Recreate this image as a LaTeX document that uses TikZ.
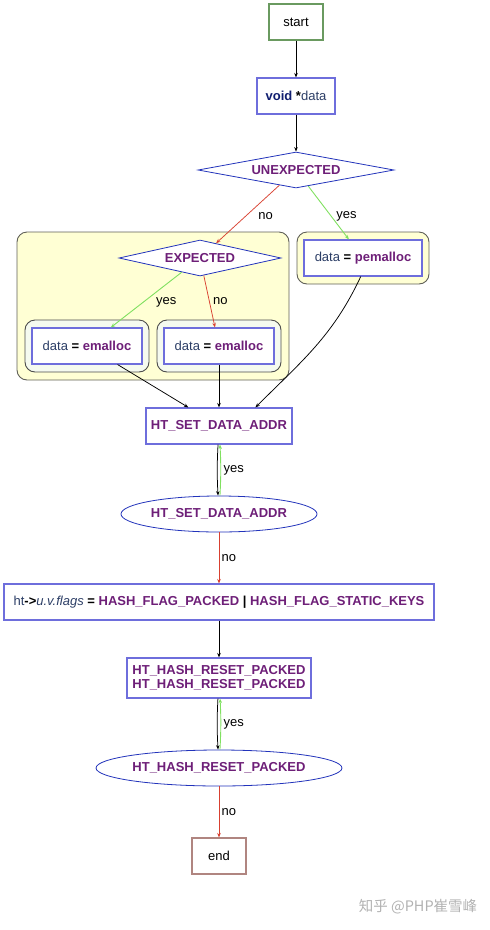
\documentclass[tikz,border=0pt]{standalone}
\usepackage{fontspec}
\setmainfont{Liberation Sans}
\newfontfamily\cjk{Noto Sans CJK SC}
\usepackage{xcolor}
\usetikzlibrary{shapes.geometric}
\usetikzlibrary{arrows.meta}
\definecolor{boxblue}{HTML}{6E6EDC}
\definecolor{shpblue}{HTML}{2233BB}
\definecolor{startgreen}{HTML}{6A9A60}
\definecolor{endred}{HTML}{B08580}
\definecolor{kwpurple}{HTML}{6E1F78}
\definecolor{varblue}{HTML}{2C3E66}
\definecolor{voidblue}{HTML}{101E70}
\definecolor{yesgreen}{HTML}{80E060}
\definecolor{nored}{HTML}{D84030}
\definecolor{clyellow}{HTML}{FFFFD4}
\definecolor{clwhite}{HTML}{F5FAEF}
\definecolor{clgray}{HTML}{606058}
\newcommand{\kw}[1]{\textcolor{kwpurple}{\textbf{#1}}}
\newcommand{\vr}[1]{\textcolor{varblue}{#1}}
\tikzset{
    proc/.style={draw=boxblue,line width=1.1pt,fill=white,inner sep=0pt,minimum height=36pt},
    term/.style={draw,line width=1.1pt,fill=white,inner sep=0pt,minimum height=36pt},
    cond/.style={diamond,draw=shpblue,line width=0.8pt,fill=white,inner sep=0pt,aspect=5,minimum height=36pt},
    test/.style={ellipse,draw=shpblue,line width=0.8pt,fill=white,inner sep=0pt,minimum height=36pt},
    cluster/.style={draw=clgray,line width=0.9pt,rounded corners=10pt},
    edge/.style={-{Stealth[length=4.5pt,width=3.5pt]},line width=0.75pt},
    yes/.style={edge,draw=yesgreen,line width=0.9pt},
    no/.style={edge,draw=nored},
}
\begin{document}
\begin{tikzpicture}[x=1pt,y=1pt,font=\fontsize{13}{15.5}\selectfont]
\useasboundingbox (0,0) rectangle (490,-930);
% clusters
\draw[cluster,fill=clyellow] (17,-232) rectangle (289,-380);
\draw[cluster,fill=clyellow] (297,-232) rectangle (429,-284);
\foreach \x in {25,157}
    \draw[cluster,fill=clwhite,draw=black!70] (\x,-320) rectangle ++(124,-52);
% nodes
\node[term,draw=startgreen,minimum width=54pt] (start) at (296,-22) {start};
\node[proc,minimum width=78pt] (decl) at (296,-96) {\textcolor{voidblue}{\textbf{void}} \textbf{*}\vr{data}};
\node[cond,minimum width=196pt] (unexp) at (296,-170) {\kw{UNEXPECTED}};
\node[cond,minimum width=162pt] (exp) at (200,-258) {\kw{EXPECTED}};
\node[proc,minimum width=110pt] (ealloca) at (87,-346) {\vr{data} \textbf{=} \kw{emalloc}};
\node[proc,minimum width=110pt] (eallocb) at (219,-346) {\vr{data} \textbf{=} \kw{emalloc}};
\node[proc,minimum width=118pt] (palloc) at (363,-258) {\vr{data} \textbf{=} \kw{pemalloc}};
\node[proc,minimum width=146pt] (setaddr) at (219,-426) {\kw{HT\_SET\_DATA\_ADDR}};
\node[test,minimum width=196pt] (setaddrq) at (219,-514) {\kw{HT\_SET\_DATA\_ADDR}};
\node[proc,minimum width=430pt] (flags) at (219,-602) {\vr{ht}\textbf{->}\vr{\textit{u.v.flags}} \textbf{=} \kw{HASH\_FLAG\_PACKED} \textbf{|} \kw{HASH\_FLAG\_STATIC\_KEYS}};
\node[proc,minimum width=184pt,minimum height=40pt,align=center] (reset) at (219,-678) {\kw{HT\_HASH\_RESET\_PACKED}\\[-1.5pt]\kw{HT\_HASH\_RESET\_PACKED}};
\node[test,minimum width=246pt] (resetq) at (219,-768) {\kw{HT\_HASH\_RESET\_PACKED}};
\node[term,draw=endred,minimum width=54pt] (end) at (219,-856) {end};
% edges
\draw[edge] (start) -- (decl);
\draw[edge] (decl) -- (unexp);
\draw[no] (unexp) -- (exp) node[pos=.5,xshift=18pt,yshift=-2pt] {no};
\draw[yes] (unexp) -- (palloc) node[pos=.5,xshift=18pt,yshift=-4pt] {yes};
\draw[yes] (exp) -- (ealloca) node[pos=.5,xshift=20pt,yshift=-2pt] {yes};
\draw[no] (exp) -- (eallocb) node[pos=.5,xshift=11pt] {no};
\draw[edge] (ealloca) -- (setaddr);
\draw[edge] (eallocb) -- (setaddr);
\draw[edge] (palloc.-97) to[out=-115,in=45] (setaddr.27);
\draw[edge] (setaddr) to[bend right=3] (setaddrq);
\draw[yes] (setaddrq) to[bend right=3] node[right=-1pt] {yes} (setaddr);
\draw[no] (setaddrq) -- (flags) node[pos=.5,right=-1pt] {no};
\draw[edge] (flags) -- (reset);
\draw[edge] (reset) to[bend right=3] (resetq);
\draw[yes] (resetq) to[bend right=3] node[right=-1pt] {yes} (reset);
\draw[no] (resetq) -- (end) node[pos=.5,right=-1pt] {no};
% watermark
\node[text=black!30,font=\cjk\fontsize{14.5}{16}\selectfont] (mark) at (418,-907) {知乎 @PHP崔雪峰};
\end{tikzpicture}
\end{document}
